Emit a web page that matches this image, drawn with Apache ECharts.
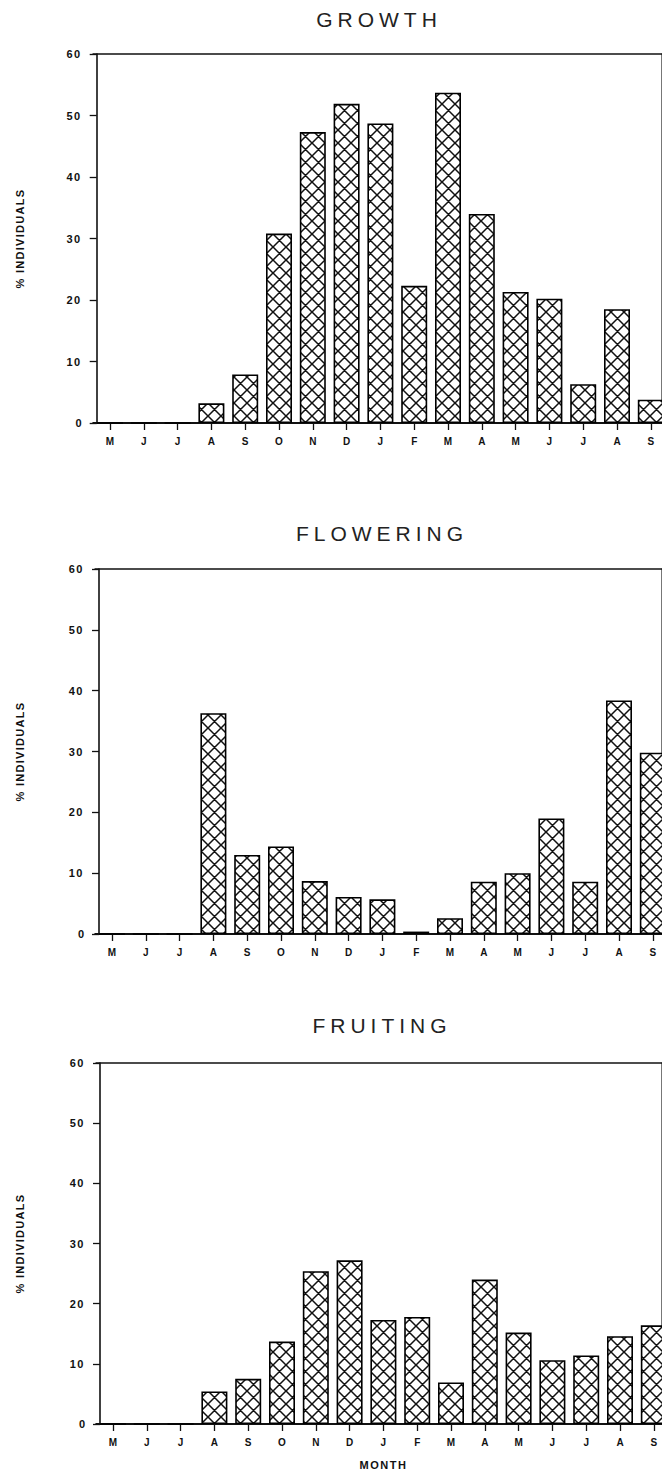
<!DOCTYPE html>
<html>
<head>
<meta charset="utf-8">
<script src="https://cdn.jsdelivr.net/npm/echarts@6/dist/echarts.min.js"></script>
<style>
  html, body { margin: 0; padding: 0; background: #fff; overflow: hidden; }
  #chart { width: 680px; height: 1471px; }
</style>
</head>
<body>
<div id="chart"></div>
<script>
// Months from May through the following September
const months = ['M', 'J', 'J', 'A', 'S', 'O', 'N', 'D', 'J', 'F', 'M', 'A', 'M', 'J', 'J', 'A', 'S'];

// Percentage of individuals in each phenophase
const growth    = [0, 0, 0, 3.2, 7.9, 30.8, 47.3, 51.9, 48.7, 22.3, 53.7, 34.0, 21.3, 20.2, 6.3, 18.5, 3.8];
const flowering = [0, 0, 0, 36.3, 13.0, 14.4, 8.7, 6.1, 5.7, 0.4, 2.6, 8.6, 10.0, 19.0, 8.6, 38.4, 29.8];
const fruiting  = [0, 0, 0, 5.4, 7.5, 13.7, 25.4, 27.2, 17.3, 17.8, 6.9, 24.0, 15.2, 10.6, 11.4, 14.6, 16.4];

const panelTitles = ['GROWTH', 'FLOWERING', 'FRUITING'];
const panelSeries = [growth, flowering, fruiting];
const yAxisTitle = '% INDIVIDUALS';
const xAxisTitle = 'MONTH';
const yMin = 0, yMax = 60, yStep = 10;

// Panel geometry (pixels); the drawing runs a little past the right page edge
const CHART_W = 680, CHART_H = 1471;
const band = 33.8;
const panels = [
  { top: 54,   height: 369, axisX: 96.7, firstCenter: 110, titleX: 379, titleY: 19 },
  { top: 569,  height: 365, axisX: 99,   firstCenter: 112, titleX: 382, titleY: 533 },
  { top: 1063, height: 361, axisX: 100,  firstCenter: 113, titleX: 382, titleY: 1025 }
];
const frameRight = 661;

// Cross-hatch tile used to fill the bars
function makeHatch(size) {
  const c = document.createElement('canvas');
  c.width = c.height = size;
  const g = c.getContext('2d');
  g.fillStyle = '#fff';
  g.fillRect(0, 0, size, size);
  g.strokeStyle = '#111';
  g.lineWidth = 1.5;
  g.beginPath();
  for (const k of [-size, 0, size]) {
    g.moveTo(k, 0); g.lineTo(k + size, size);
    g.moveTo(k + size, 0); g.lineTo(k, size);
  }
  g.stroke();
  return c;
}
const HATCH = 13;
const hatchFill = { image: makeHatch(HATCH).toDataURL(), repeat: 'repeat', imageWidth: HATCH, imageHeight: HATCH };

const FONT = '"Liberation Sans", Arial, Helvetica, sans-serif';
const INK = '#111';

const grids = [], xAxes = [], yAxes = [], series = [], graphics = [];

panels.forEach((p, i) => {
  const left = p.firstCenter - band / 2;
  const width = band * months.length;
  grids.push({ left: left, top: p.top, width: width, height: p.height, containLabel: false });

  // bottom category axis
  xAxes.push({
    type: 'category', gridIndex: i, data: months, position: 'bottom',
    axisLine: { show: true, onZero: false, lineStyle: { color: INK, width: 1.8 } },
    axisTick: { show: true, alignWithLabel: true, inside: false, length: 7, lineStyle: { color: INK, width: 1.3 } },
    axisLabel: { interval: 0, margin: 13, color: INK, fontFamily: FONT, fontWeight: 'bold', fontSize: 10 },
    name: i === panels.length - 1 ? xAxisTitle : '',
    nameLocation: 'middle', nameGap: 35,
    nameTextStyle: { color: INK, fontFamily: FONT, fontWeight: 'bold', fontSize: 11 },
    splitLine: { show: false }
  });
  // top frame line
  xAxes.push({
    type: 'category', gridIndex: i, data: months, position: 'top',
    axisLine: { show: true, onZero: false, lineStyle: { color: INK, width: 1.6 } },
    axisTick: { show: false }, axisLabel: { show: false }, splitLine: { show: false }
  });

  // value axis on the left
  yAxes.push({
    type: 'value', gridIndex: i, min: yMin, max: yMax, interval: yStep,
    position: 'left', offset: left - p.axisX,
    axisLine: { show: true, onZero: false, lineStyle: { color: INK, width: 1.6 } },
    axisTick: { show: true, inside: false, length: 7, lineStyle: { color: INK, width: 1.3 } },
    axisLabel: { margin: 15, color: INK, fontFamily: FONT, fontWeight: 'bold', fontSize: 11 },
    splitLine: { show: false },
    name: yAxisTitle, nameLocation: 'middle', nameGap: p.axisX - 25,
    nameTextStyle: { color: INK, fontFamily: FONT, fontWeight: 'bold', fontSize: 11 }
  });
  // right frame edge
  yAxes.push({
    type: 'value', gridIndex: i, min: yMin, max: yMax, interval: yStep,
    position: 'right', offset: frameRight - (left + width),
    axisLine: { show: true, onZero: false, lineStyle: { color: '#777', width: 1 } },
    axisTick: { show: false }, axisLabel: { show: false }, splitLine: { show: false }
  });

  series.push({
    type: 'bar', xAxisIndex: i * 2, yAxisIndex: i * 2,
    data: panelSeries[i], barWidth: 26,
    itemStyle: { color: hatchFill, borderColor: '#000', borderWidth: 1.6 },
    silent: true
  });

  graphics.push({
    type: 'text', x: p.titleX, y: p.titleY,
    style: {
      text: panelTitles[i], fill: '#222',
      font: 'normal 21px ' + FONT,
      textAlign: 'center', textVerticalAlign: 'middle'
    }
  });
});

const chart = echarts.init(document.getElementById('chart'), null, { renderer: 'svg', width: CHART_W, height: CHART_H });
chart.setOption({
  backgroundColor: '#fff',
  animation: false,
  grid: grids,
  xAxis: xAxes,
  yAxis: yAxes,
  series: series,
  graphic: graphics
});

// Wider tracking for the typewritten-looking labels
function applyTracking() {
  document.querySelectorAll('#chart svg text').forEach(t => {
    const s = t.textContent.trim();
    if (panelTitles.includes(s)) t.style.letterSpacing = '5px';
    else if (s === yAxisTitle) t.style.letterSpacing = '1.3px';
    else if (s === xAxisTitle) t.style.letterSpacing = '1.5px';
    else if (/^\d+$/.test(s) && s.length > 1) t.style.letterSpacing = '1.5px';
  });
}
applyTracking();
chart.on('finished', applyTracking);
requestAnimationFrame(applyTracking);
</script>
</body>
</html>
